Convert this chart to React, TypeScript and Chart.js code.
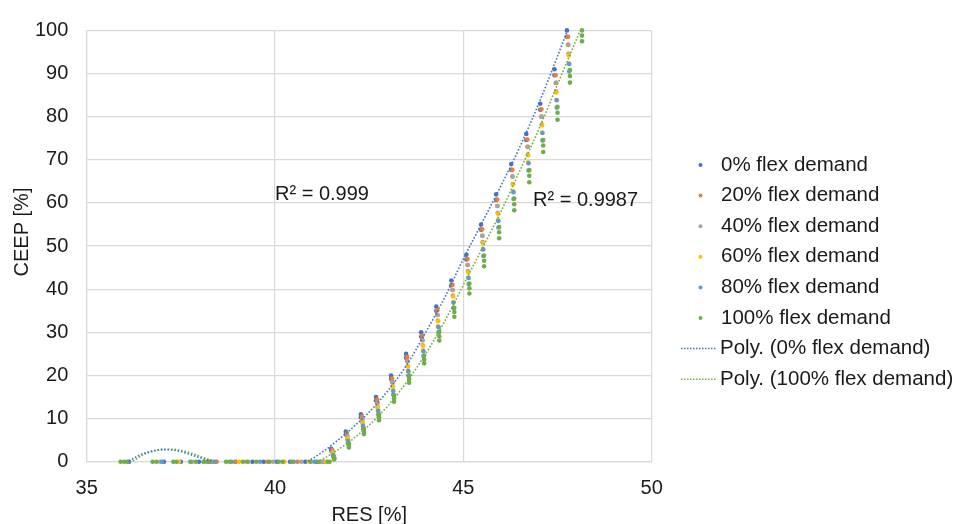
import React, { useEffect, useRef } from "react";
import { Chart, registerables } from "chart.js";

Chart.register(...registerables);

// ---------- axis ----------
const xMin = 35;
const xMax = 50;
const xStep = 5;
const yMin = 0;
const yMax = 100;
const yStep = 10;
const xTitle = "RES [%]";
const yTitle = "CEEP [%]";

// ---------- series names / colours ----------
const seriesLabels = [
  "0% flex demand",
  "20% flex demand",
  "40% flex demand",
  "60% flex demand",
  "80% flex demand",
  "100% flex demand",
];
const seriesColors = ["#4472C4", "#ED7D31", "#A5A5A5", "#FFC000", "#5B9BD5", "#70AD47"];
const trendLabels = ["Poly. (0% flex demand)", "Poly. (100% flex demand)"];
const trendColors = ["#4472C4", "#70AD47"];
const r2Texts = ["R² = 0.999", "R² = 0.9987"];
const r2Res = [40.0, 46.85];
const r2Ceep = [61.9, 60.5];

// ---------- data: points with CEEP = 0 (RES values) ----------
const zeroRes0 = [36.12, 37.05, 37.5, 37.98, 38.3, 38.95, 39.4, 39.7, 40.05, 40.4, 40.8, 41.1, 41.3];
const zeroRes20 = [38.45, 38.95, 39.8, 40.6, 41.2];
const zeroRes40 = [36.95, 37.8, 38.35, 39.3, 39.95, 40.7, 41.25];
const zeroRes60 = [37.45, 38.25, 39.05, 40.25, 40.9, 41.35];
const zeroRes80 = [37.0, 38.4, 38.85, 39.6, 40.5, 41.05];
const zeroRes100 = [
  35.9, 36.0, 36.08, 36.75, 36.85, 37.3, 37.38, 37.75, 37.9, 38.1, 38.18, 38.25, 38.7, 38.8,
  39.15, 39.25, 39.5, 39.85, 40.1, 40.2, 40.45, 40.95, 41.15, 41.4, 41.45,
];

// ---------- data: rising part (RES column, upper and lower CEEP of each column) ----------
const colRes0 = [41.49, 41.88, 42.28, 42.68, 43.08, 43.48, 43.88, 44.28, 44.68, 45.08, 45.47, 45.87, 46.27, 46.67, 47.04, 47.42, 47.75];
const ceepHigh0 = [3, 7, 11, 15, 20, 25, 30, 36, 42, 48, 55, 62, 69, 76, 83, 91, 100];
const ceepLow0 = [2.6, 6.4, 10.3, 14.2, 19.2, 24.1, 29.0, 35.0, 40.9, 46.9, 53.8, 60.7, 67.7, 74.6, 81.6, 89.6, 98.5];

const colRes20 = [41.52, 41.91, 42.31, 42.71, 43.11, 43.51, 43.91, 44.31, 44.71, 45.11, 45.5, 45.9, 46.3, 46.7, 47.07, 47.45, 47.78];
const ceepHigh20 = [2.7, 6.5, 10.5, 14.4, 19.3, 24.3, 29.2, 35.1, 41.0, 47.0, 53.9, 60.8, 67.7, 74.7, 81.7, 89.6, 98.5];
const ceepLow20 = [2.3, 5.9, 9.8, 13.6, 18.4, 23.3, 28.2, 34.0, 39.8, 45.6, 52.4, 59.3, 66.1, 73.0, 80.0, 87.8, 96.7];

const colRes40 = [41.53, 41.92, 42.32, 42.72, 43.12, 43.52, 43.92, 44.32, 44.72, 45.12, 45.51, 45.91, 46.31, 46.71, 47.08, 47.46, 47.79];
const ceepHigh40 = [2.3, 6.0, 9.8, 13.6, 18.5, 23.3, 28.1, 34.0, 39.8, 45.6, 52.4, 59.3, 66.1, 73.0, 80.0, 87.9, 96.6];
const ceepLow40 = [1.9, 5.3, 9.0, 12.7, 17.5, 22.2, 27.0, 32.7, 38.5, 44.2, 50.9, 57.7, 64.4, 71.2, 78.2, 85.9, 94.6];

const colRes60 = [41.54, 41.93, 42.33, 42.73, 43.13, 43.53, 43.93, 44.33, 44.73, 45.13, 45.52, 45.92, 46.32, 46.72, 47.09, 47.47, 47.8];
const ceepHigh60 = [2.0, 5.4, 9.0, 12.7, 17.4, 22.1, 26.9, 32.6, 38.3, 44.0, 50.7, 57.5, 64.3, 71.0, 78.0, 85.6, 94.2];
const ceepLow60 = [1.6, 4.8, 8.3, 11.9, 16.5, 21.1, 25.8, 31.4, 37.0, 42.7, 49.3, 56.0, 62.7, 69.4, 76.3, 83.9, 92.4];

const colRes80 = [41.55, 41.94, 42.34, 42.74, 43.14, 43.54, 43.94, 44.34, 44.74, 45.14, 45.53, 45.93, 46.33, 46.73, 47.1, 47.48, 47.81];
const ceepHigh80 = [1.5, 4.8, 8.3, 11.8, 16.4, 21.0, 25.6, 31.2, 36.9, 42.6, 49.2, 55.8, 62.5, 69.2, 76.2, 83.8, 92.2];
const ceepLow80 = [1.1, 4.2, 7.6, 11.0, 15.5, 20.0, 24.5, 30.0, 35.6, 41.2, 47.7, 54.3, 60.9, 67.5, 74.5, 82.1, 90.5];

const colRes100 = [41.57, 41.96, 42.36, 42.76, 43.16, 43.56, 43.96, 44.36, 44.76, 45.16, 45.55, 45.95, 46.35, 46.75, 47.12, 47.5, 47.83, 48.15];
const ceepHigh100 = [1.0, 4.2, 7.6, 11.0, 15.4, 20.0, 24.6, 30.1, 35.7, 41.3, 47.8, 54.4, 61.0, 67.6, 74.6, 82.3, 90.8, 100];
const ceepMid100 = [0.8, 3.8, 7.0, 10.3, 14.7, 19.2, 23.7, 29.1, 34.7, 40.2, 46.6, 53.2, 59.7, 66.3, 73.3, 80.9, 89.4, 98.8];
const ceepLow100 = [0.5, 3.3, 6.4, 9.6, 13.9, 18.3, 22.8, 28.1, 33.6, 39.0, 45.3, 51.8, 58.3, 64.8, 71.8, 79.3, 87.9, 97.5];

// ---------- polynomial trend lines ----------
const polyRes0 = [35.9, 36.1, 36.4, 36.7, 37.0, 37.3, 37.6, 37.9, 38.2, 38.5, 39.0, 39.5, 40.0, 40.5, 40.85, 41.3, 41.7, 42.1, 42.5, 43.0, 43.5, 44.0, 44.5, 45.0, 45.5, 46.0, 46.5, 47.0, 47.5, 47.85];
const polyCeep0 = [-1.2, 0, 1.5, 2.4, 2.8, 2.7, 2.1, 1.2, 0.4, -0.6, -2.0, -2.8, -2.6, -1.5, 0, 2.5, 5.2, 8.2, 11.5, 16.5, 22.5, 30, 38, 47, 55.5, 64, 73, 83, 94, 102];
const polyRes100 = [35.9, 36.2, 36.5, 36.8, 37.1, 37.4, 37.7, 38.0, 38.3, 38.6, 39.0, 39.5, 40.0, 40.5, 41.14, 41.5, 42.0, 42.5, 43.0, 43.5, 44.0, 44.5, 45.0, 45.5, 46.0, 46.5, 47.0, 47.5, 48.15];
const polyCeep100 = [-1.2, 0, 1.6, 2.5, 2.9, 2.8, 2.2, 1.3, 0.4, -0.5, -2.0, -3.3, -3.5, -2.5, 0, 1.8, 4.8, 8.5, 13, 18.5, 25, 32.5, 41, 49.5, 58, 67.5, 77, 87.5, 101];

// ---------- styling ----------
const FONT = '"Liberation Sans", Arial, Helvetica, sans-serif';
const TEXT = "#1a1a1a";
const GRID = "#d9d9d9";

const zeroResList = [zeroRes0, zeroRes20, zeroRes40, zeroRes60, zeroRes80, zeroRes100];
const colResList = [colRes0, colRes20, colRes40, colRes60, colRes80, colRes100];
const ceepLists = [
  [ceepHigh0, ceepLow0],
  [ceepHigh20, ceepLow20],
  [ceepHigh40, ceepLow40],
  [ceepHigh60, ceepLow60],
  [ceepHigh80, ceepLow80],
  [ceepHigh100, ceepMid100, ceepLow100],
];

function buildPoints(i: number) {
  const pts: { x: number; y: number }[] = [];
  zeroResList[i].forEach((x) => pts.push({ x, y: 0 }));
  colResList[i].forEach((x, k) => {
    ceepLists[i].forEach((arr) => pts.push({ x, y: arr[k] }));
  });
  return pts;
}

const textPlugin = {
  id: "textOverlay",
  afterDraw(chart: any) {
    const ctx = chart.ctx as CanvasRenderingContext2D;
    const xs = chart.scales.x;
    const ys = chart.scales.y;
    const area = chart.chartArea;
    ctx.save();
    ctx.fillStyle = TEXT;
    ctx.font = `20px ${FONT}`;
    ctx.textBaseline = "middle";
    ctx.textAlign = "left";
    // R² labels
    r2Texts.forEach((t, i) => {
      ctx.fillText(t, xs.getPixelForValue(r2Res[i]), ys.getPixelForValue(r2Ceep[i]));
    });
    // axis titles
    ctx.textAlign = "center";
    ctx.fillText(xTitle, (area.left + area.right) / 2, 515);
    ctx.save();
    ctx.translate(22, 232);
    ctx.rotate(-Math.PI / 2);
    ctx.fillText(yTitle, 0, 0);
    ctx.restore();
    // legend
    ctx.font = `20.5px ${FONT}`;
    ctx.textAlign = "left";
    const rowY0 = 165;
    const rowStep = 30.6;
    seriesLabels.forEach((lab, i) => {
      const y = rowY0 + i * rowStep;
      ctx.fillStyle = seriesColors[i];
      ctx.beginPath();
      ctx.arc(700.5, y, 2, 0, Math.PI * 2);
      ctx.fill();
      ctx.fillStyle = TEXT;
      ctx.fillText(lab, 721, y);
    });
    trendLabels.forEach((lab, i) => {
      const y = rowY0 + (seriesLabels.length + i) * rowStep;
      ctx.strokeStyle = trendColors[i];
      ctx.lineWidth = 1.5;
      ctx.setLineDash([1.5, 1.5]);
      ctx.beginPath();
      ctx.moveTo(681, y);
      ctx.lineTo(716, y);
      ctx.stroke();
      ctx.setLineDash([]);
      ctx.fillStyle = TEXT;
      ctx.fillText(lab, 720, y);
    });
    ctx.restore();
  },
};

export default function App() {
  const canvasRef = useRef<HTMLCanvasElement | null>(null);

  useEffect(() => {
    if (!canvasRef.current) return;
    const scatterSets = seriesLabels.map((label, i) => ({
      type: "scatter" as const,
      label,
      data: buildPoints(i),
      backgroundColor: seriesColors[i],
      borderColor: seriesColors[i],
      borderWidth: 0,
      pointRadius: 2.3,
      pointHoverRadius: 2.3,
      showLine: false,
      clip: 4,
      order: 10 - i,
    }));
    const trendSets = [
      { res: polyRes0, ceep: polyCeep0 },
      { res: polyRes100, ceep: polyCeep100 },
    ].map((t, i) => ({
      type: "scatter" as const,
      label: trendLabels[i],
      data: t.res.map((x, k) => ({ x, y: t.ceep[k] })),
      borderColor: trendColors[i],
      backgroundColor: trendColors[i],
      borderWidth: 1.6,
      borderDash: [1.6, 1.8],
      pointRadius: 0,
      showLine: true,
      cubicInterpolationMode: "monotone" as const,
      fill: false,
      order: 0,
    }));

    const chart = new Chart(canvasRef.current, {
      type: "scatter",
      data: { datasets: [...scatterSets, ...trendSets] as any },
      options: {
        animation: false,
        responsive: false,
        devicePixelRatio: 1,
        layout: { padding: { top: 22.7, right: 307.3, left: 0, bottom: 0 } },
        font: { family: FONT },
        plugins: {
          legend: { display: false },
          tooltip: { enabled: false },
        },
        scales: {
          x: {
            type: "linear",
            min: xMin,
            max: xMax,
            afterFit: (s: any) => {
              s.height = 62.3;
            },
            ticks: {
              stepSize: xStep,
              color: TEXT,
              font: { size: 20, family: FONT },
              padding: 15,
              maxRotation: 0,
            },
            grid: { color: GRID, drawTicks: false, lineWidth: 1.2 },
            border: { color: GRID, width: 1.2 },
          },
          y: {
            type: "linear",
            min: yMin,
            max: yMax,
            afterFit: (s: any) => {
              s.width = 86.7;
            },
            ticks: {
              stepSize: yStep,
              color: TEXT,
              font: { size: 20, family: FONT },
              padding: 18.4,
            },
            grid: { color: GRID, drawTicks: false, lineWidth: 1.2 },
            border: { color: GRID, width: 1.2 },
          },
        },
      },
      plugins: [textPlugin],
    });
    return () => chart.destroy();
  }, []);

  return (
    <div style={{ position: "absolute", left: 0, top: 0, width: 959, height: 524, background: "#fff" }}>
      <canvas ref={canvasRef} width={959} height={524} style={{ width: 959, height: 524, display: "block" }} />
    </div>
  );
}
